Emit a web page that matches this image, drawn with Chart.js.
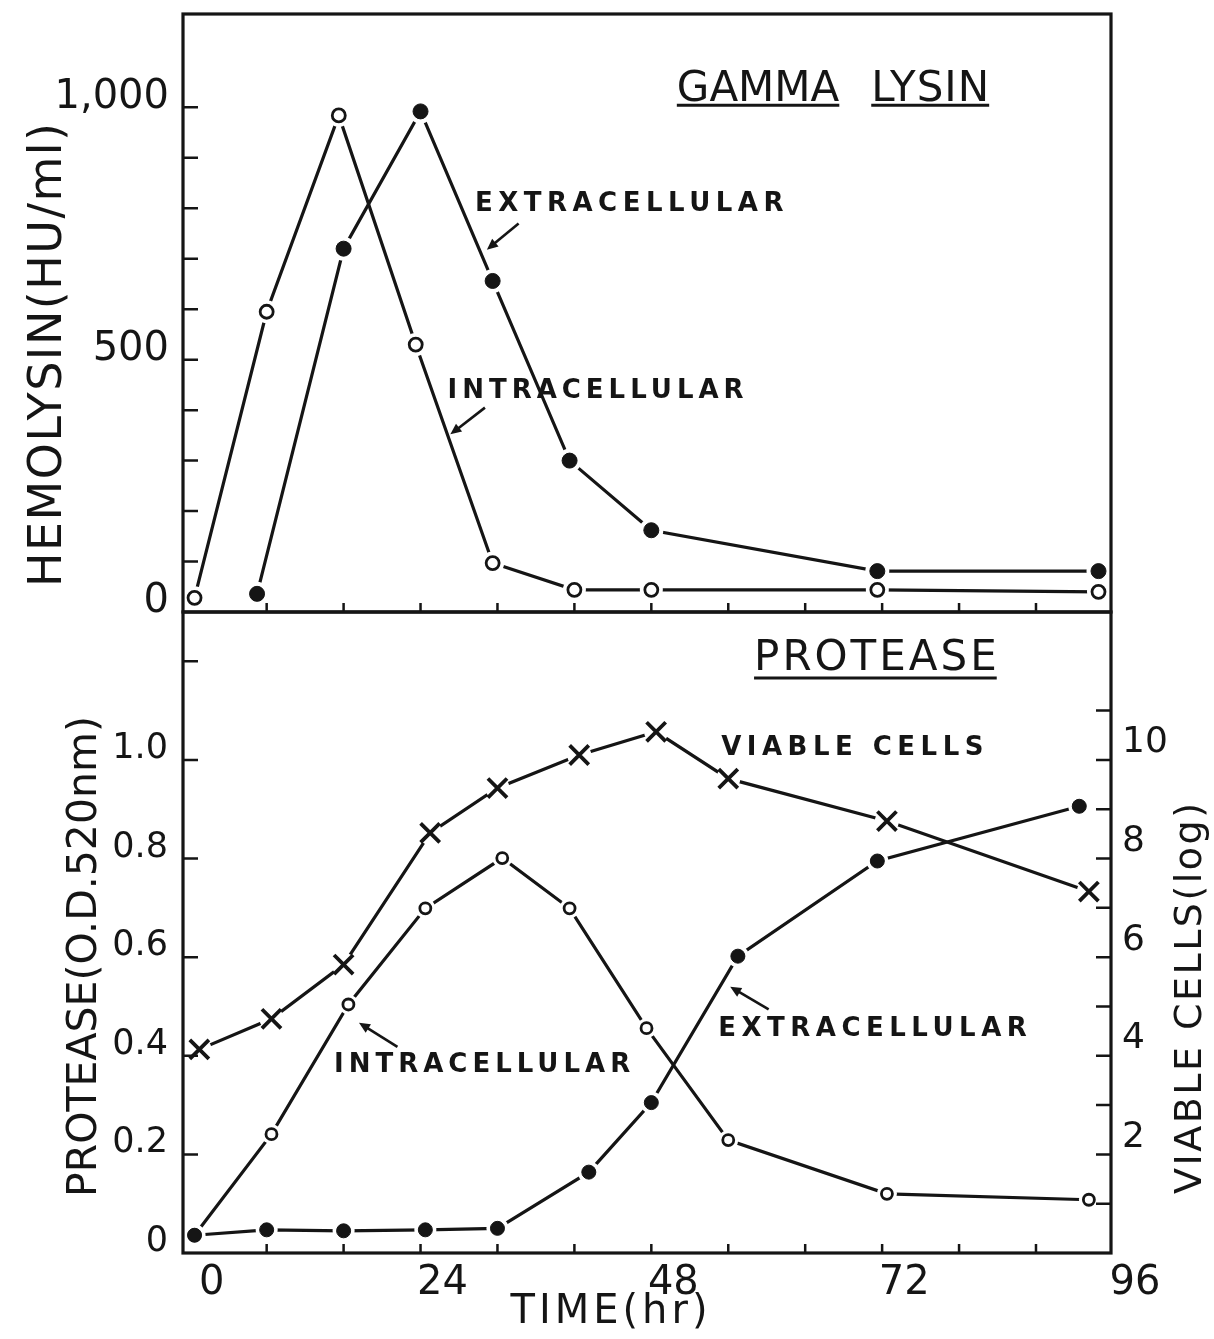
<!DOCTYPE html>
<html>
<head>
<meta charset="utf-8">
<title>Gamma lysin and protease production</title>
<script src="https://cdn.jsdelivr.net/npm/chart.js@4.4.1/dist/chart.umd.min.js"></script>
<style>
  html, body { margin: 0; padding: 0; background: #ffffff; }
  #wrap { position: relative; width: 1214px; height: 1339px; }
  #wrap canvas { position: absolute; left: 0; top: 0; }
</style>
</head>
<body>
<div id="wrap">
  <canvas id="lysinPanel" width="1214" height="1339"></canvas>
  <canvas id="proteasePanel" width="1214" height="1339"></canvas>
</div>
<script>
// ---- Gamma lysin: hemolysin titre (HU/ml) against culture time (hr) ----
const lysinIntraHours = [0.5, 8, 15.5, 23.5, 31.5, 40, 48, 71.5, 94.5];
const lysinIntraHU    = [28, 595, 984, 530, 97, 44, 44, 44, 40];
const lysinExtraHours = [7, 16, 24, 31.5, 39.5, 48, 71.5, 94.5];
const lysinExtraHU    = [36, 720, 992, 656, 300, 162, 81, 81];

// ---- Protease (O.D. 520 nm) and viable cells (log) against culture time (hr) ----
const proteaseIntraHours = [0.5, 8.5, 16.5, 24.5, 32.5, 39.5, 47.5, 56, 72.5, 93.5];
const proteaseIntraOD    = [0.036, 0.241, 0.504, 0.699, 0.801, 0.699, 0.456, 0.229, 0.120, 0.108];
const proteaseExtraHours = [0.5, 8, 16, 24.5, 32, 41.5, 48, 57, 71.5, 92.5];
const proteaseExtraOD    = [0.036, 0.047, 0.045, 0.047, 0.050, 0.164, 0.305, 0.602, 0.795, 0.906];
const viableHours = [1, 8.5, 16, 25, 32, 40.5, 48.5, 56, 72.5, 93.5];
const viableLog   = [4.13, 4.75, 5.85, 8.52, 9.43, 10.1, 10.57, 9.62, 8.76, 7.33];

// ---- Axis ticks and their labels ----
const timeTicks       = [0, 8, 16, 24, 32, 40, 48, 56, 64, 72, 80, 88, 96];
const timeTickLabels  = ['0', '', '', '24', '', '', '48', '', '', '72', '', '', '96'];
const hemolysinTicks      = [0, 100, 200, 300, 400, 500, 600, 700, 800, 900, 1000];
const hemolysinTickLabels = ['0', '', '', '', '', '500', '', '', '', '', '1,000'];
const proteaseTicks      = [0, 0.2, 0.4, 0.6, 0.8, 1.0, 1.2];
const proteaseTickLabels = ['0', '0.2', '0.4', '0.6', '0.8', '1.0', ''];
const viableTicks      = [1, 2, 3, 4, 5, 6, 7, 8, 9, 10, 11];
const viableTickLabels = ['', '2', '', '4', '', '6', '', '8', '', '10', ''];

const INK = '#151515';
const FONT = '"DejaVu Sans", "Liberation Sans", sans-serif';

function points(hours, values) {
  return hours.map((h, i) => ({ x: h, y: values[i] }));
}

// A series = connecting line, white halo behind each marker (leaves the small
// gap between line and symbol), then the marker itself.
function series(hours, values, yAxisID, mk) {
  const data = points(hours, values);
  return [
    { data, yAxisID, showLine: true, borderColor: INK, borderWidth: 3.2, tension: 0,
      pointRadius: 0, clip: false, order: 40 },
    { data, yAxisID, showLine: false, pointStyle: 'circle', pointRadius: mk.halo,
      pointBackgroundColor: '#ffffff', pointBorderWidth: 0, clip: false, order: 30 },
    { data, yAxisID, showLine: false, pointStyle: mk.style, pointRadius: mk.r,
      pointBackgroundColor: mk.fill, pointBorderColor: INK, pointBorderWidth: mk.bw,
      clip: false, order: mk.order }
  ];
}

function fixedTicks(values) {
  return (scale) => { scale.ticks = values.map(v => ({ value: v })); };
}

// Fixed axis thickness; no extra room reserved for overhanging labels
function fixedSize(prop, size) {
  return (s) => {
    if (size !== null) s[prop] = size;
    s.paddingTop = 0; s.paddingBottom = 0; s.paddingLeft = 0; s.paddingRight = 0;
  };
}

// Frame, inward tick marks, axis titles, captions and arrows
const panelDecor = {
  id: 'panelDecor',
  afterDraw(chart, args, opts) {
    const ctx = chart.ctx;
    const a = chart.chartArea;
    ctx.save();
    ctx.strokeStyle = INK;
    ctx.fillStyle = INK;
    ctx.lineCap = 'butt';

    // tick marks pointing into the plot
    ctx.lineWidth = 2.5;
    ctx.beginPath();
    (opts.tickMarks || []).forEach(t => {
      const s = chart.scales[t.scale];
      t.values.forEach(v => {
        const p = s.getPixelForValue(v);
        if (t.side === 'left')   { ctx.moveTo(a.left, p);   ctx.lineTo(a.left + t.len, p); }
        if (t.side === 'right')  { ctx.moveTo(a.right, p);  ctx.lineTo(a.right - t.len, p); }
        if (t.side === 'bottom') { ctx.moveTo(p, a.bottom); ctx.lineTo(p, a.bottom - t.len); }
      });
    });
    ctx.stroke();

    // frame
    ctx.lineWidth = 3.2;
    ctx.strokeRect(a.left, a.top, a.right - a.left, a.bottom - a.top);

    // axis titles
    (opts.titles || []).forEach(t => {
      ctx.save();
      const cx = (t.anchorX === 'right' ? a.right : t.anchorX === 'mid' ? (a.left + a.right) / 2 : a.left) + t.dx;
      const cy = (t.anchorY === 'bottom' ? a.bottom : (a.top + a.bottom) / 2) + t.dy;
      ctx.translate(cx, cy);
      ctx.rotate(t.rotate || 0);
      ctx.font = t.font;
      ctx.letterSpacing = (t.spacing || 0) + 'px';
      ctx.textAlign = 'center';
      ctx.textBaseline = 'middle';
      ctx.fillText(t.text, (t.spacing || 0) / 2, 0);
      ctx.restore();
    });

    // captions placed in data units
    const xs = chart.scales.x;
    (opts.captions || []).forEach(c => {
      const ys = chart.scales[c.scale];
      const px = xs.getPixelForValue(c.x);
      const py = ys.getPixelForValue(c.y);
      ctx.save();
      ctx.font = c.font;
      ctx.letterSpacing = (c.spacing || 0) + 'px';
      ctx.textAlign = 'center';
      ctx.textBaseline = 'middle';
      ctx.fillText(c.text, px + (c.spacing || 0) / 2, py);
      if (c.underline !== undefined) {
        const w = ctx.measureText(c.text).width - (c.spacing || 0);
        const uy = ys.getPixelForValue(c.underline);
        ctx.lineWidth = 3;
        ctx.beginPath();
        ctx.moveTo(px - w / 2, uy);
        ctx.lineTo(px + w / 2, uy);
        ctx.stroke();
      }
      ctx.restore();
    });

    // pointer arrows
    (opts.arrows || []).forEach(ar => {
      const ys = chart.scales[ar.scale];
      const x0 = xs.getPixelForValue(ar.from[0]), y0 = ys.getPixelForValue(ar.from[1]);
      const x1 = xs.getPixelForValue(ar.to[0]),   y1 = ys.getPixelForValue(ar.to[1]);
      const ang = Math.atan2(y1 - y0, x1 - x0);
      const head = 11, half = 5;
      ctx.lineWidth = 2.6;
      ctx.beginPath();
      ctx.moveTo(x0, y0);
      ctx.lineTo(x1 - Math.cos(ang) * head * 0.7, y1 - Math.sin(ang) * head * 0.7);
      ctx.stroke();
      ctx.beginPath();
      ctx.moveTo(x1, y1);
      ctx.lineTo(x1 - Math.cos(ang) * head + Math.sin(ang) * half, y1 - Math.sin(ang) * head - Math.cos(ang) * half);
      ctx.lineTo(x1 - Math.cos(ang) * head - Math.sin(ang) * half, y1 - Math.sin(ang) * head + Math.cos(ang) * half);
      ctx.closePath();
      ctx.fill();
    });
    ctx.restore();
  }
};

const openTop    = { style: 'circle', r: 6.5, halo: 11.5, fill: '#ffffff', bw: 2.8, order: 2 };
const solidTop   = { style: 'circle', r: 7.5, halo: 12,   fill: INK,       bw: 1,   order: 1 };
const openLow    = { style: 'circle', r: 5.5, halo: 10,   fill: '#ffffff', bw: 2.8, order: 3 };
const solidLow   = { style: 'circle', r: 7,   halo: 11,   fill: INK,       bw: 1,   order: 1 };
const crossLow   = { style: 'crossRot', r: 13.5, halo: 12, fill: INK,      bw: 3.8, order: 2 };

const timeAxis = (showLabels) => ({
  type: 'linear', min: -0.7, max: 95.8,
  display: showLabels,
  afterBuildTicks: fixedTicks(timeTicks),
  afterFit: fixedSize('height', showLabels ? 86 : null),
  grid: { display: false, drawTicks: false },
  border: { display: false },
  ticks: {
    color: INK, padding: 7, labelOffset: 22, maxRotation: 0, autoSkip: false,
    font: { family: FONT, size: 40 },
    callback: (v, i) => timeTickLabels[i]
  }
});

const common = {
  responsive: false,
  animation: false,
  devicePixelRatio: 1,
  events: [],
};

// Upper panel: gamma lysin
new Chart(document.getElementById('lysinPanel'), {
  type: 'line',
  data: {
    datasets: [
      ...series(lysinIntraHours, lysinIntraHU, 'y', openTop),
      ...series(lysinExtraHours, lysinExtraHU, 'y', solidTop)
    ]
  },
  options: {
    ...common,
    layout: { autoPadding: false, padding: { left: 0, right: 103, top: 14, bottom: 727 } },
    scales: {
      x: timeAxis(false),
      y: {
        type: 'linear', position: 'left', min: 0, max: 1185,
        afterBuildTicks: fixedTicks(hemolysinTicks),
        afterFit: fixedSize('width', 183),
        grid: { display: false, drawTicks: false },
        border: { display: false },
        ticks: {
          color: INK, padding: 14, labelOffset: -10, autoSkip: false,
          font: { family: FONT, size: 40 },
          callback: (v, i) => hemolysinTickLabels[i]
        }
      }
    },
    plugins: {
      legend: { display: false },
      tooltip: { enabled: false },
      panelDecor: {
        tickMarks: [
          { scale: 'y', side: 'left', len: 15, values: hemolysinTicks.slice(1) },
          { scale: 'x', side: 'bottom', len: 9, values: timeTicks.slice(1, -1) }
        ],
        titles: [
          { text: 'HEMOLYSIN(HU/ml)', anchorX: 'left', dx: -134, dy: 42, rotate: -Math.PI / 2,
            font: '46px ' + FONT, spacing: 1.5 }
        ],
        captions: [
          { text: 'GAMMA', x: 59.1, y: 1034, scale: 'y', font: '42px ' + FONT, underline: 1004 },
          { text: 'LYSIN', x: 77.0, y: 1034, scale: 'y', font: '42px ' + FONT, spacing: 1, underline: 1004 },
          { text: 'EXTRACELLULAR', x: 45.7, y: 808, scale: 'y', font: 'bold 26px ' + FONT, spacing: 5.5 },
          { text: 'INTRACELLULAR', x: 42.2, y: 438, scale: 'y', font: 'bold 26px ' + FONT, spacing: 5 }
        ],
        arrows: [
          { scale: 'y', from: [34.2, 770], to: [30.9, 718] },
          { scale: 'y', from: [30.7, 405], to: [27.1, 352] }
        ]
      }
    }
  },
  plugins: [panelDecor]
});

// Lower panel: protease and viable cells
new Chart(document.getElementById('proteasePanel'), {
  type: 'line',
  data: {
    datasets: [
      ...series(viableHours, viableLog, 'yr', crossLow),
      ...series(proteaseIntraHours, proteaseIntraOD, 'y', openLow),
      ...series(proteaseExtraHours, proteaseExtraOD, 'y', solidLow)
    ]
  },
  options: {
    ...common,
    layout: { autoPadding: false, padding: { left: 0, right: 0, top: 612, bottom: 0 } },
    scales: {
      x: timeAxis(true),
      y: {
        type: 'linear', position: 'left', min: 0, max: 1.3,
        afterBuildTicks: fixedTicks(proteaseTicks),
        afterFit: fixedSize('width', 183),
        grid: { display: false, drawTicks: false },
        border: { display: false },
        ticks: {
          color: INK, padding: 15, labelOffset: -11, autoSkip: false,
          font: { family: FONT, size: 35 },
          callback: (v, i) => proteaseTickLabels[i]
        }
      },
      yr: {
        type: 'linear', position: 'right', min: 0, max: 13,
        afterBuildTicks: fixedTicks(viableTicks),
        afterFit: fixedSize('width', 103),
        grid: { display: false, drawTicks: false },
        border: { display: false },
        ticks: {
          color: INK, padding: 11, labelOffset: -17, autoSkip: false,
          font: { family: FONT, size: 36 },
          callback: (v, i) => viableTickLabels[i]
        }
      }
    },
    plugins: {
      legend: { display: false },
      tooltip: { enabled: false },
      panelDecor: {
        tickMarks: [
          { scale: 'y', side: 'left', len: 15, values: proteaseTicks.slice(1) },
          { scale: 'yr', side: 'right', len: 15, values: viableTicks },
          { scale: 'x', side: 'bottom', len: 9, values: timeTicks.slice(1, -1) }
        ],
        titles: [
          { text: 'PROTEASE(O.D.520nm)', anchorX: 'left', dx: -98, dy: 24, rotate: -Math.PI / 2,
            font: '41px ' + FONT, spacing: 0 },
          { text: 'VIABLE CELLS(log)', anchorX: 'right', dx: 80, dy: 66, rotate: -Math.PI / 2,
            font: '38px ' + FONT, spacing: 2.5 },
          { text: 'TIME(hr)', anchorX: 'mid', anchorY: 'bottom', dx: -38, dy: 60, rotate: 0,
            font: '40px ' + FONT, spacing: 4 }
        ],
        captions: [
          { text: 'PROTEASE', x: 71.3, y: 1.205, scale: 'y', font: '42px ' + FONT, spacing: 3, underline: 1.166 },
          { text: 'VIABLE CELLS', x: 68.9, y: 1.024, scale: 'y', font: 'bold 26px ' + FONT, spacing: 5.5 },
          { text: 'EXTRACELLULAR', x: 71.0, y: 0.453, scale: 'y', font: 'bold 26px ' + FONT, spacing: 5.5 },
          { text: 'INTRACELLULAR', x: 30.4, y: 0.380, scale: 'y', font: 'bold 26px ' + FONT, spacing: 5 }
        ],
        arrows: [
          { scale: 'y', from: [60.2, 0.494], to: [56.2, 0.540] },
          { scale: 'y', from: [21.6, 0.418], to: [17.6, 0.467] }
        ]
      }
    }
  },
  plugins: [panelDecor]
});
</script>
</body>
</html>
